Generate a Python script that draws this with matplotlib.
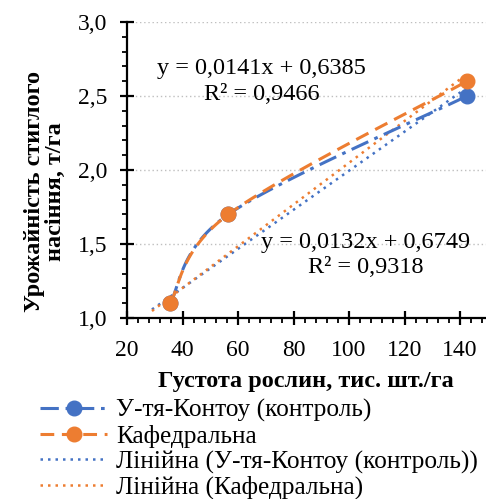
import numpy as np
import matplotlib
matplotlib.use("Agg")
import matplotlib.pyplot as plt
from matplotlib.ticker import MultipleLocator, FixedLocator
from matplotlib.lines import Line2D

plt.rcParams['font.family'] = ['Liberation Serif', 'DejaVu Serif']

# ---- data ----
density = [35.5, 56.5, 142.5]
yield_kontou = [1.1, 1.7, 2.5]
yield_kafedr = [1.1, 1.7, 2.6]
series_names = ["У-тя-Контоу (контроль)", "Кафедральна"]
trend_names = ["Лінійна (У-тя-Контоу (контроль))", "Лінійна (Кафедральна)"]
trend_kontou = (0.0132, 0.6749, 0.9318)   # slope, intercept, R2
trend_kafedr = (0.0141, 0.6385, 0.9466)
trend_range = (29.0, 142.5)
xticks = [20, 40, 60, 80, 100, 120, 140]
xticklabels = ["20", "40", "60", "80", "100", "120", "140"]
yticks = [1.0, 1.5, 2.0, 2.5, 3.0]
yticklabels = ["1,0", "1,5", "2,0", "2,5", "3,0"]
x_title = "Густота рослин, тис. шт./га"
y_title = "Урожайність стиглого\nнасіння, т/га"

BLUE = "#4472C4"
ORANGE = "#ED7D31"
FS = 17.5


def excel_smooth(xs, ys, n=60):
    """Excel-like smoothed line: cubic Bezier with Catmull-Rom control points."""
    P = np.column_stack([xs, ys]).astype(float)
    m = len(P)
    out = []
    for i in range(m - 1):
        p0 = P[i - 1] if i > 0 else P[i]
        p1 = P[i]
        p2 = P[i + 1]
        p3 = P[i + 2] if i + 2 < m else P[i + 1]
        c1 = p1 + (p2 - p0) / 6.0
        c2 = p2 - (p3 - p1) / 6.0
        t = np.linspace(0, 1, n)[:, None]
        seg = ((1 - t) ** 3) * p1 + 3 * ((1 - t) ** 2) * t * c1 + 3 * (1 - t) * t ** 2 * c2 + t ** 3 * p2
        out.append(seg if i == 0 else seg[1:])
    out = np.vstack(out)
    return out[:, 0], out[:, 1]


W, H = 486, 499
fig = plt.figure(figsize=(W / 100, H / 100), dpi=100)
ax = fig.add_axes([127 / W, 181 / H, 360.75 / W, 296 / H])

BLUE_DASH = (6, 2.2, 1.2, 2.2)
ORANGE_DASH = (4.5, 2.5)
DOT = (0, (1, 2.0))

# smoothed series lines
bx, by = excel_smooth(density, yield_kontou)
ox, oy = excel_smooth(density, yield_kafedr)
ax.plot(bx, by, color=BLUE, lw=2.2, dashes=BLUE_DASH, zorder=3)
ax.plot(ox, oy, color=ORANGE, lw=2.2, dashes=ORANGE_DASH, zorder=4)
ax.plot(density, yield_kontou, 'o', color=BLUE, ms=10.5, zorder=5)
ax.plot(density, yield_kafedr, 'o', color=ORANGE, ms=10.5, zorder=6)

# trend lines
tx = np.linspace(trend_range[0], trend_range[1], 50)
ax.plot(tx, trend_kontou[0] * tx + trend_kontou[1], color=BLUE, lw=1.8, ls=DOT, zorder=2)
ax.plot(tx, trend_kafedr[0] * tx + trend_kafedr[1], color=ORANGE, lw=1.8, ls=DOT, zorder=2)


def eq_text(tr):
    s = f"{tr[0]:.4f}".replace(".", ",")
    b = f"{tr[1]:.4f}".replace(".", ",")
    r = f"{tr[2]:.4f}".replace(".", ",")
    return f"y = {s}x + {b}\nR² = {r}"


ax.text(0.374, 0.80, eq_text(trend_kafedr), transform=ax.transAxes, ha='center', va='center',
        fontsize=FS, linespacing=1.3, zorder=7)
ax.text(0.6625, 0.213, eq_text(trend_kontou), transform=ax.transAxes, ha='center', va='center',
        fontsize=FS, linespacing=1.3, zorder=7)

ax.set_xlim(20, 150)
ax.set_ylim(1.0, 3.0)
ax.xaxis.set_major_locator(FixedLocator(xticks))
ax.set_xticklabels(xticklabels)
ax.xaxis.set_minor_locator(MultipleLocator(4))
ax.yaxis.set_major_locator(FixedLocator(yticks))
ax.set_yticklabels(yticklabels)
ax.yaxis.set_minor_locator(MultipleLocator(0.1))

for s in ['top', 'right']:
    ax.spines[s].set_visible(False)
for s in ['left', 'bottom']:
    ax.spines[s].set_linewidth(1.6)
    ax.spines[s].set_color('black')

ax.tick_params(which='major', direction='inout', length=10.5, width=1.6, labelsize=17)
ax.tick_params(which='minor', direction='out', length=3.8, width=1.3)
ax.tick_params(axis='y', which='major', pad=9)
ax.tick_params(axis='x', which='major', pad=10.5)

ax.grid(axis='y', which='major', color='#BFBFBF', ls=(0, (1, 2)), lw=1.0, zorder=0)
ax.set_axisbelow(True)

fig.text(306 / W, 1 - 381 / H, x_title, ha='center', va='center',
         fontsize=FS, fontweight='bold')
fig.text(45 / W, 1 - 192 / H, y_title, rotation=90,
         ha='center', va='center', multialignment='center', fontsize=FS,
         fontweight='bold', linespacing=1.0)

# legend
handles = [
    Line2D([], [], color=BLUE, lw=2.2, dashes=BLUE_DASH, marker='o', ms=10.5),
    Line2D([], [], color=ORANGE, lw=2.2, dashes=ORANGE_DASH, marker='o', ms=10.5),
    Line2D([], [], color=BLUE, lw=1.8, ls=DOT),
    Line2D([], [], color=ORANGE, lw=1.8, ls=DOT),
]
labels = series_names + trend_names
fig.legend(handles, labels, loc='upper left', bbox_to_anchor=(40 / W, 1 - 399 / H),
           frameon=False, fontsize=18.3, handlelength=2.65, handletextpad=0.35,
           labelspacing=0.1, borderpad=0, borderaxespad=0, numpoints=1)

fig.savefig("out.png", dpi=100)
